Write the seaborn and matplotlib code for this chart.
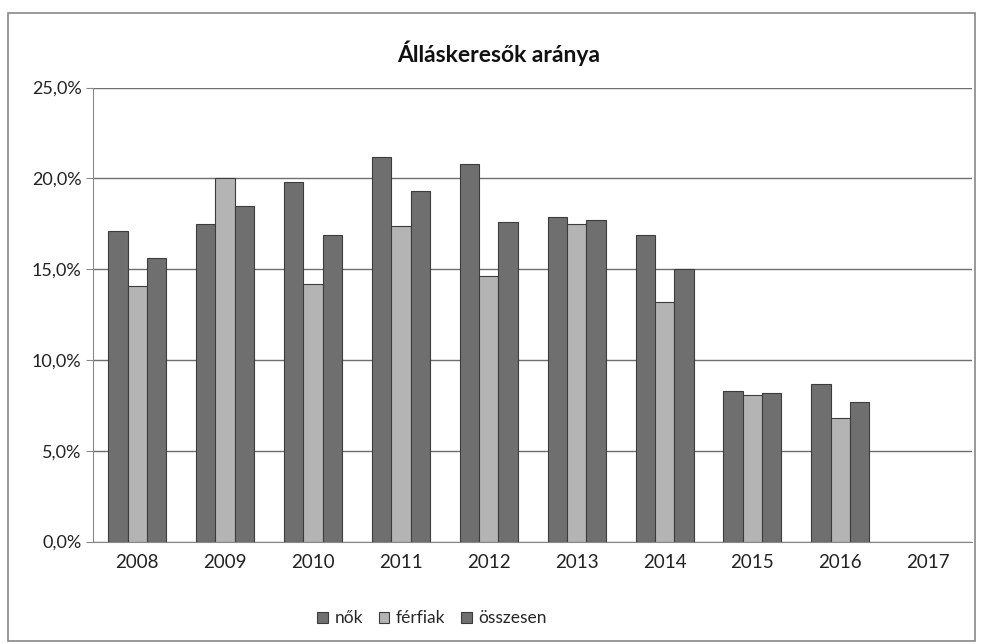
""" Álláskeresők aránya - grouped bar chart """

import numpy as np
import pandas as pd
import matplotlib
matplotlib.use('Agg')
import matplotlib.pyplot as plt
from matplotlib.ticker import FuncFormatter
from matplotlib.patches import Rectangle
import seaborn as sns

# Data (percent)
years = ['2008', '2009', '2010', '2011', '2012', '2013', '2014', '2015', '2016', '2017']
nok = [17.1, 17.5, 19.8, 21.2, 20.8, 17.9, 16.9, 8.3, 8.7, np.nan]
ferfiak = [14.1, 20.0, 14.2, 17.4, 14.6, 17.5, 13.2, 8.1, 6.8, np.nan]
osszesen = [15.6, 18.5, 16.9, 19.3, 17.6, 17.7, 15.0, 8.2, 7.7, np.nan]
series_names = ['nők', 'férfiak', 'összesen']

colors = ['#6f6f6f', '#b4b4b4', '#6f6f6f']

df = pd.DataFrame({'Év': years, 'nők': nok, 'férfiak': ferfiak, 'összesen': osszesen})
long_df = df.melt(id_vars='Év', var_name='Csoport', value_name='Arány')

sns.set_style('white')
plt.rcParams['font.family'] = ['Lato', 'DejaVu Sans']

fig = plt.figure(figsize=(9.82, 6.44), dpi=100)
ax = fig.add_axes([0.095, 0.159, 0.895, 0.705])

sns.barplot(data=long_df.dropna(), x='Év', y='Arány', hue='Csoport', order=years,
            hue_order=series_names, palette=colors, width=0.66, gap=0,
            edgecolor='#3c3c3c', linewidth=0.8, ax=ax, legend=True)

ax.set_ylim(0, 25)
ax.set_xlim(-0.5, len(years) - 0.5)
ax.set_yticks(np.arange(0, 26, 5))
ax.yaxis.set_major_formatter(FuncFormatter(lambda v, p: f'{v:.1f}%'.replace('.', ',')))
ax.yaxis.grid(True, color='#6e6e6e', linewidth=1.0)
ax.set_axisbelow(True)
ax.set_xlabel('')
ax.set_ylabel('')

# Excel-style tick marks between categories
ax.set_xticks(np.arange(-0.5, len(years), 1), minor=True)
ax.tick_params(axis='x', which='major', length=0, pad=9, labelsize=13.5, colors='#222222')
ax.tick_params(axis='x', which='minor', length=5, color='#888888')
ax.tick_params(axis='y', length=5, color='#888888', labelsize=13, colors='#222222')
ax.tick_params(axis='y', which='major', left=True)

for side in ['top', 'right']:
    ax.spines[side].set_visible(False)
ax.spines['left'].set_color('#888888')
ax.spines['bottom'].set_color('#888888')

fig.text(0.508, 0.918, 'Álláskeresők aránya', ha='center', va='center',
         fontsize=16.5, fontweight='bold', color='#111111')

# Legend under the plot
handles, labels = ax.get_legend_handles_labels()
ax.legend_.remove()
fig.legend(handles, labels, loc='center', bbox_to_anchor=(0.44, 0.04), ncol=3,
           frameon=False, fontsize=12.5, handlelength=0.6, handleheight=0.6,
           handletextpad=0.4, columnspacing=0.9)

# Chart border
fig.patches.append(Rectangle((0.008, 0.005), 0.985, 0.975, transform=fig.transFigure,
                             fill=False, edgecolor='#888888', linewidth=1.2))

fig.savefig('out.png', dpi=100)
plt.close()
